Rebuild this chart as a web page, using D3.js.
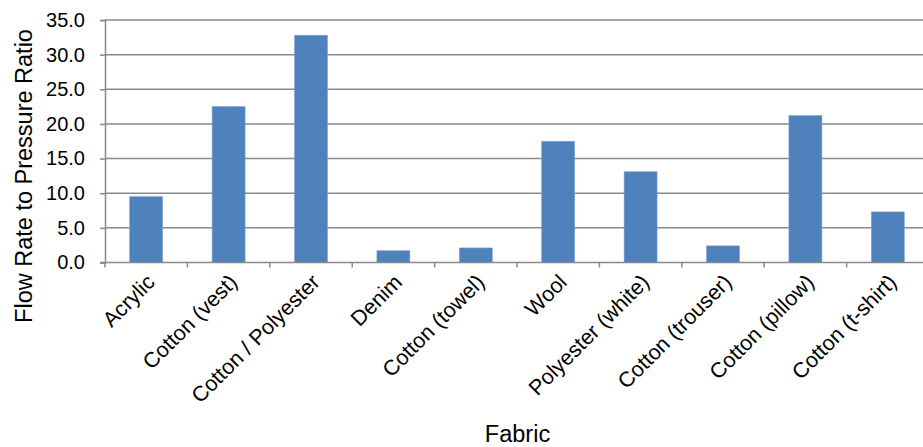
<!DOCTYPE html>
<html>
<head>
<meta charset="utf-8">
<script src="https://cdn.jsdelivr.net/npm/d3@7"></script>
<style>
  html, body { margin: 0; padding: 0; background: #fff; }
  svg { display: block; }
  text { font-family: "Liberation Sans", Arial, sans-serif; fill: #000; }
</style>
</head>
<body>
<svg id="chart" width="923" height="447"></svg>
<script>
// Fabric samples and their flow-rate-to-pressure ratio
const fabrics = ["Acrylic", "Cotton (vest)", "Cotton / Polyester", "Denim", "Cotton (towel)",
                 "Wool", "Polyester (white)", "Cotton (trouser)", "Cotton (pillow)", "Cotton (t-shirt)"];
const ratios = [9.5, 22.5, 32.8, 1.7, 2.1, 17.5, 13.1, 2.4, 21.2, 7.3];
const yTicks = [0, 5, 10, 15, 20, 25, 30, 35];

const svg = d3.select("#chart");
const plot = { left: 105, right: 929, top: 20, bottom: 262.5 };

const x = d3.scaleBand()
  .domain(fabrics)
  .range([plot.left, plot.right])
  .paddingInner(0.6)
  .paddingOuter(0.3);

const y = d3.scaleLinear()
  .domain([0, 35])
  .range([plot.bottom, plot.top]);

const gridColor = "#898989";

// horizontal gridlines
svg.append("g")
  .selectAll("line")
  .data(yTicks.filter(d => d > 0))
  .join("line")
  .attr("x1", plot.left)
  .attr("x2", plot.right)
  .attr("y1", d => y(d))
  .attr("y2", d => y(d))
  .attr("stroke", gridColor)
  .attr("stroke-width", 1.5);

// bars
svg.append("g")
  .selectAll("rect")
  .data(fabrics.map((f, i) => ({ f, v: ratios[i] })))
  .join("rect")
  .attr("x", d => x(d.f))
  .attr("width", x.bandwidth())
  .attr("y", d => y(d.v))
  .attr("height", d => y(0) - y(d.v))
  .attr("fill", "#4F81BD")
  .attr("stroke", "#7FA2D0")
  .attr("stroke-width", 0.6);

// y axis
const yAxis = svg.append("g")
  .attr("transform", `translate(${plot.left},0)`)
  .call(d3.axisLeft(y).tickValues(yTicks).tickFormat(d3.format(".1f")).tickSize(5).tickPadding(15));
yAxis.select(".domain").attr("stroke", gridColor).attr("stroke-width", 1.5);
yAxis.selectAll(".tick line").attr("stroke", gridColor).attr("stroke-width", 1.5);
yAxis.selectAll(".tick text").style("font-size", "20px").attr("fill", "#000");

// x axis baseline with category boundary ticks
const step = x.step();
const boundaries = d3.range(fabrics.length + 1).map(i => plot.left + i * step);
svg.append("line")
  .attr("x1", plot.left - 5).attr("x2", plot.right)
  .attr("y1", plot.bottom).attr("y2", plot.bottom)
  .attr("stroke", gridColor).attr("stroke-width", 1.5);
svg.append("g")
  .selectAll("line")
  .data(boundaries)
  .join("line")
  .attr("x1", d => d).attr("x2", d => d)
  .attr("y1", plot.bottom).attr("y2", plot.bottom + 5)
  .attr("stroke", gridColor).attr("stroke-width", 1.5);

// rotated category labels
svg.append("g")
  .selectAll("text")
  .data(fabrics)
  .join("text")
  .attr("transform", d => `translate(${x(d) + x.bandwidth() / 2 + 10},${plot.bottom + 21}) rotate(-45)`)
  .attr("text-anchor", "end")
  .style("font-size", "21.5px")
  .text(d => d);

// axis titles
svg.append("text")
  .attr("transform", `translate(32,176) rotate(-90)`)
  .attr("text-anchor", "middle")
  .style("font-size", "23.5px")
  .text("Flow Rate to Pressure Ratio");

svg.append("text")
  .attr("x", 517.5)
  .attr("y", 442)
  .attr("text-anchor", "middle")
  .style("font-size", "23.5px")
  .text("Fabric");
</script>
</body>
</html>
